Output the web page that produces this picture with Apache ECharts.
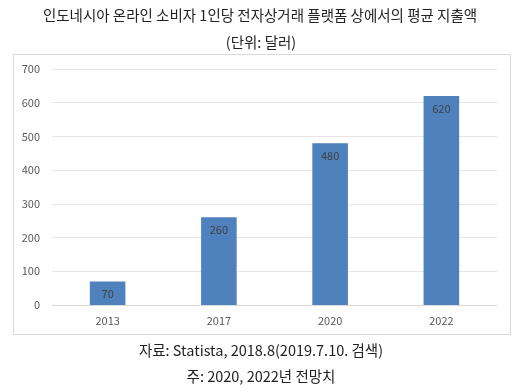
<!DOCTYPE html>
<html><head><meta charset="utf-8">
<script src="https://cdn.jsdelivr.net/npm/echarts@6/dist/echarts.min.js"></script>
<style>html,body{margin:0;padding:0;background:#fff}#c{width:526px;height:391px}</style>
</head><body><div id="c"></div>
<script>
const categories = ['2013', '2017', '2020', '2022'];
const values = [70, 260, 480, 620];
const titleText = '인도네시아 온라인 소비자 1인당 전자상거래 플랫폼 상에서의 평균 지출액';
const unitText = '(단위: 달러)';
const sourceText = '자료: Statista, 2018.8(2019.7.10. 검색)';
const noteText = '주: 2020, 2022년 전망치';

const font = '"Noto Sans CJK KR", "Noto Sans", sans-serif';
const chart = echarts.init(document.getElementById('c'), null, {renderer: 'canvas'});
chart.setOption({
  animation: false,
  backgroundColor: '#fff',
  textStyle: {fontFamily: font},
  graphic: [
    {type: 'rect', shape: {x: 13.5, y: 54.5, width: 497, height: 280}, style: {fill: 'none', stroke: '#d9d9d9', lineWidth: 1}, z: 0},
    {type: 'text', x: 260, y: 15, style: {text: titleText, font: '14.5px ' + font, fill: '#222', align: 'center', verticalAlign: 'middle'}},
    {type: 'text', x: 261, y: 42, style: {text: unitText, font: '14.5px ' + font, fill: '#222', align: 'center', verticalAlign: 'middle'}},
    {type: 'text', x: 261, y: 350, style: {text: sourceText, font: '14.5px ' + font, fill: '#222', align: 'center', verticalAlign: 'middle'}},
    {type: 'text', x: 261, y: 376, style: {text: noteText, font: '14.5px ' + font, fill: '#222', align: 'center', verticalAlign: 'middle'}}
  ],
  grid: {left: 52, right: 29, top: 69, bottom: 86, containLabel: false},
  xAxis: {
    type: 'category', data: categories,
    axisLine: {show: true, lineStyle: {color: '#d9d9d9', width: 1}},
    axisTick: {show: false},
    axisLabel: {color: '#595959', fontSize: 11, margin: 10, fontFamily: font}
  },
  yAxis: {
    type: 'value', min: 0, max: 700, interval: 100,
    axisLine: {show: false}, axisTick: {show: false},
    axisLabel: {color: '#595959', fontSize: 11, margin: 12, fontFamily: font},
    splitLine: {lineStyle: {color: '#e6e6e6', width: 1}}
  },
  series: [{
    type: 'bar', data: values, barWidth: '32%',
    itemStyle: {color: '#4f81bd'},
    label: {show: true, position: 'insideTop', distance: 7, color: '#404040', fontSize: 11, fontFamily: font}
  }]
});
</script></body></html>
